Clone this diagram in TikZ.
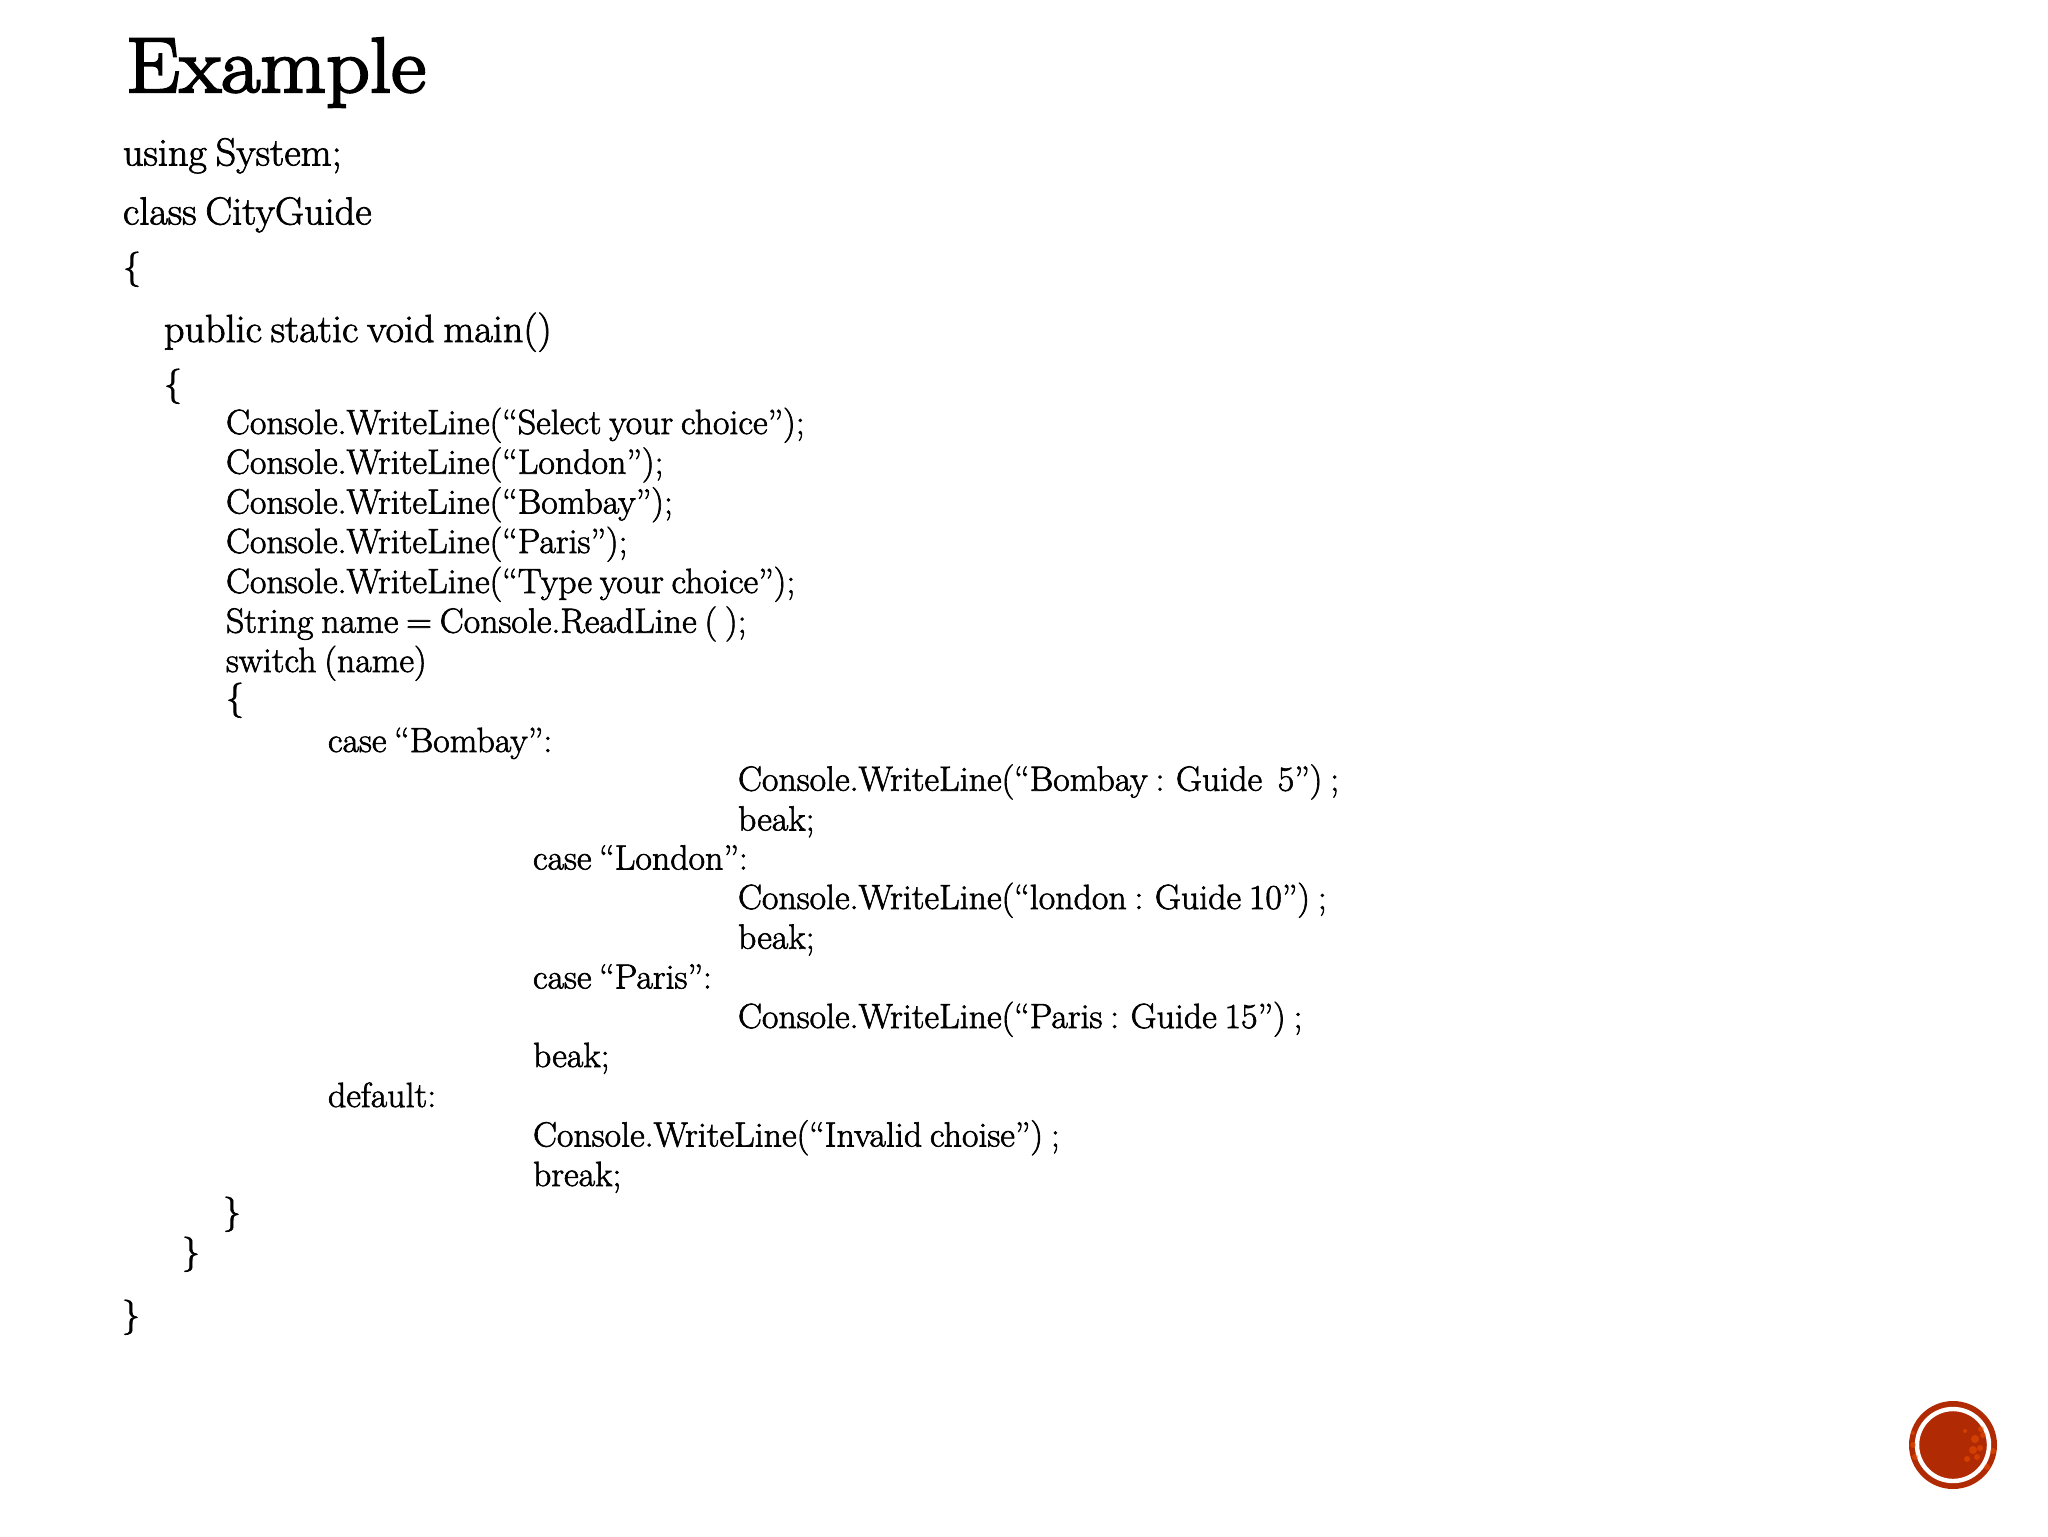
\documentclass[tikz,border=0pt]{standalone}
\usepackage{fontspec}
\newfontfamily\codefont[FakeBold=1.8,FakeStretch=1.025,WordSpace=0.72]{Latin Modern Roman}
\newfontfamily\titlefont[FakeBold=3,FakeStretch=1.095]{Latin Modern Roman}
\definecolor{badge}{RGB}{176,42,4}
\begin{document}
\begin{tikzpicture}[x=0.5pt,y=-0.5pt,
  codeline/.style={anchor=base west,inner sep=0pt,outer sep=0pt,font=\codefont\fontsize{17.5}{20}\selectfont},
  headline/.style={anchor=base west,inner sep=0pt,outer sep=0pt,font=\codefont\fontsize{19.6}{22}\selectfont},
  titleline/.style={anchor=base west,inner sep=0pt,outer sep=0pt,font=\titlefont\fontsize{39}{44}\selectfont}]
\useasboundingbox (0,0) rectangle (2048,1536);
\fill[white] (0,0) rectangle (2048,1536);
\node[titleline] (title) at (126,92) {Example};
\node[headline] (l1) at (123,165.5) {using System;};
\node[headline] (l2) at (123,224.5) {class CityGuide};
\node[codeline] (l3) at (123,278) {\{};
\node[headline] (l4) at (164,342) {public static void main()};
\node[codeline] (l5) at (164,395) {\{};
\node[codeline] (l6) at (226,434) {Console.WriteLine(“Select your choice”);};
\node[codeline] (l7) at (226,473.7) {Console.WriteLine(“London”);};
\node[codeline] (l8) at (226,513.5) {Console.WriteLine(“Bombay”);};
\node[codeline] (l9) at (226,553) {Console.WriteLine(“Paris”);};
\node[codeline] (l10) at (226,593) {Console.WriteLine(“Type your choice”);};
\node[codeline] (l11) at (226,632.7) {String name = Console.ReadLine ( );};
\node[codeline] (l12) at (226,672) {switch (name)};
\node[codeline] (l13) at (226,709) {\{};
\node[codeline] (l14) at (328,752) {case “Bombay”:};
\node[codeline] (l15) at (738,790.7) {Console.WriteLine(“Bombay : Guide\ \ 5”) ;};
\node[codeline] (l16) at (738,830.5) {beak;};
\node[codeline] (l17) at (533,869.5) {case “London”:};
\node[codeline] (l18) at (738,909) {Console.WriteLine(“london : Guide 10”) ;};
\node[codeline] (l19) at (738,948.7) {beak;};
\node[codeline] (l20) at (533,988.5) {case “Paris”:};
\node[codeline] (l21) at (738,1028) {Console.WriteLine(“Paris : Guide 15”) ;};
\node[codeline] (l22) at (533,1067) {beak;};
\node[codeline] (l23) at (328,1107) {default:};
\node[codeline] (l24) at (533,1146.5) {Console.WriteLine(“Invalid choise”) ;};
\node[codeline] (l25) at (533,1186) {break;};
\node[codeline] (l26) at (223,1223) {\}};
\node[codeline] (l27) at (182,1263) {\}};
\node[codeline] (l28) at (122,1326) {\}};
\fill[badge] (1953,1445) circle (44);
\draw[white,line width=2.2pt] (1953,1445) circle (36);
\foreach \dx/\dy/\r in {22/-6/4,27/3/3,20/5/4,30/-10/3,14/14/3,-40/0/3,-38/12/3,40/6/3,34/22/3,12/-14/2,24/12/3,28/-16/3,-40/-12/2}
  \fill[orange!70!red,opacity=0.45] (1953+\dx,1445+\dy) circle (\r);
\end{tikzpicture}
\end{document}
